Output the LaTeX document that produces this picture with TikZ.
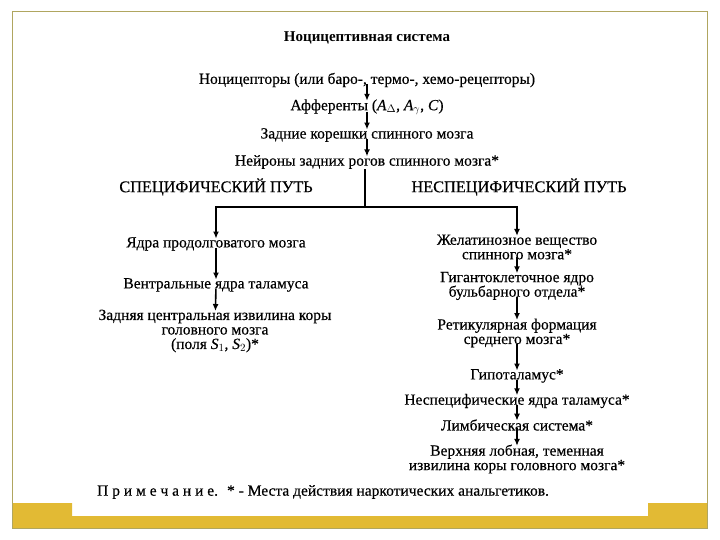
\documentclass[tikz,border=0pt]{standalone}
\usepackage{fontspec}
\setmainfont{Liberation Serif}
\usetikzlibrary{arrows.meta}
\definecolor{ramka}{RGB}{176,166,96}
\definecolor{zoloto}{RGB}{226,186,52}
\tikzset{
  punkt/.style={inner sep=0pt, align=center, font=\addfontfeature{FakeBold=0.4}\fontsize{15.5}{14.5}\selectfont},
  put/.style={punkt, font=\addfontfeature{FakeBold=0.4}\fontsize{16.3}{17}\selectfont},
  strelka/.style={-{Latex[length=7pt,width=6pt]}, line width=1.6pt, shorten <=-3pt, shorten >=-1.5pt},
}
\begin{document}
\begin{tikzpicture}[x=1pt,y=-1pt]
  \useasboundingbox (0,0) rectangle (720,540);
  % рамка слайда
  \fill[zoloto] (12,503) -- (72,503) -- (72,516) -- (648,516) -- (648,503) -- (707,503) -- (707,528) -- (12,528) -- cycle;
  \draw[ramka, line width=1pt] (12,12) rectangle (707,528);
  % заголовок
  \node[punkt, font=\bfseries\fontsize{15}{15}\selectfont] (zag) at (367,38) {Ноцицептивная система};
  % общий путь
  \node[punkt] (recept) at (367,80) {Ноцицепторы (или баро-, термо-, хемо-рецепторы)};
  \node[punkt] (affer) at (367,107) {Афференты (\textit{A}$_\Delta$, \textit{A}$_\gamma$, \textit{C})};
  \node[punkt] (koresh) at (367,135) {Задние корешки спинного мозга};
  \node[punkt] (neur) at (367,162) {Нейроны задних рогов спинного мозга*};
  \draw[strelka] (recept) -- (affer);
  \draw[strelka] (affer) -- (koresh);
  \draw[strelka] (koresh) -- (neur);
  % развилка
  \node[put] (spec) at (216,187) {СПЕЦИФИЧЕСКИЙ ПУТЬ};
  \node[put] (nespec) at (519,187) {НЕСПЕЦИФИЧЕСКИЙ ПУТЬ};
  \coordinate (razv) at (365,207);
  \draw[line width=1.6pt] (neur.south -| razv) -- (razv);
  % специфический путь
  \node[punkt] (prodol) at (216,244) {Ядра продолговатого мозга};
  \node[punkt] (ventr) at (216,285) {Вентральные ядра таламуса};
  \node[punkt] (zadn) at (215,331) {Задняя центральная извилина коры\\ головного мозга\\ (поля \textit{S}$_1$, \textit{S}$_2$)*};
  \draw[strelka, shorten <=0pt] (razv) -| (prodol);
  \draw[strelka] (prodol) -- (ventr);
  \draw[strelka] (ventr) -- (zadn);
  % неспецифический путь
  \node[punkt] (zhelat) at (517,247) {Желатинозное вещество\\ спинного мозга*};
  \node[punkt] (gigant) at (517,286) {Гигантоклеточное ядро\\ бульбарного отдела*};
  \node[punkt] (retik) at (517,333) {Ретикулярная формация\\ среднего мозга*};
  \node[punkt] (gipot) at (517,376) {Гипоталамус*};
  \node[punkt] (nesp) at (517,401) {Неспецифические ядра таламуса*};
  \node[punkt] (limb) at (517,425) {Лимбическая система*};
  \node[punkt] (verh) at (517,459) {Верхняя лобная, теменная\\ извилина коры головного мозга*};
  \draw[strelka, shorten <=0pt] (razv) -| (zhelat);
  \draw[strelka] (zhelat) -- (gigant);
  \draw[strelka] (gigant) -- (retik);
  \draw[strelka] (retik) -- (gipot);
  \draw[strelka] (gipot) -- (nesp);
  \draw[strelka] (nesp) -- (limb);
  \draw[strelka] (limb) -- (verh);
  % примечание
  \node[punkt, anchor=west] (prim) at (97,492) {П р и м е ч а н и е. \ * - Места действия наркотических анальгетиков.};
\end{tikzpicture}
\end{document}
